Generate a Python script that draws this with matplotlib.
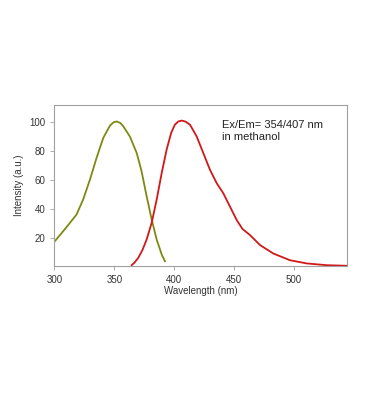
import matplotlib.pyplot as plt
import numpy as np

plt.rcParams['font.family'] = ['Liberation Sans', 'DejaVu Sans']

# excitation spectrum (olive)
ex_nm = [300.4, 307.4, 313, 318.5, 324, 329.7, 335.2, 340.8, 346.4, 349.5, 352, 355,
         357.5, 363, 368.7, 372.8, 377, 381.2, 385.4, 389.6, 392.3]
ex_int = [18.1, 25, 30.7, 36.4, 46.7, 60.4, 75.3, 89, 97.5, 99.8, 100.3, 99.3,
          97, 90, 78.7, 66, 49, 33, 19.2, 8.9, 4.3]

# emission spectrum (red)
em_nm = [364.5, 367, 370, 373.5, 377, 381.2, 385.4, 389.6, 393.7, 397.5, 400.5, 403.4,
         406.3, 409.5, 413.2, 418.8, 424.3, 429.9, 435.5, 441, 446.6, 452.2, 457,
         463.3, 471.7, 482.8, 496.7, 510.7, 527.4, 544]
em_int = [1.6, 3.5, 6.6, 12, 19.2, 30.7, 46.7, 65, 81, 92.5, 98, 100.3,
          100.9, 100.2, 98.1, 90, 78.6, 67.1, 57.9, 51, 41.8, 32.6, 26.5,
          22.3, 15.4, 9.6, 5, 2.8, 1.6, 1.2]

xticks = [300, 350, 400, 450, 500]
yticks = [20, 40, 60, 80, 100]

fig = plt.figure(figsize=(3.7, 4.19), dpi=100)
ax = fig.add_axes([0.147, 0.365, 0.79, 0.384])

ax.plot(ex_nm, ex_int, color='#7d8a12', lw=1.3, solid_joinstyle='round')
ax.plot(em_nm, em_int, color='#d01818', lw=1.3, solid_joinstyle='round')

ax.set_xlim(300, 544)
ax.set_ylim(1, 111.5)
ax.set_xticks(xticks)
ax.set_yticks(yticks)

for s in ax.spines.values():
    s.set_color('#a0a0a0')
    s.set_linewidth(0.8)
ax.tick_params(colors='#a0a0a0', labelcolor='#333333', labelsize=7, length=3, width=0.6)

ax.set_xlabel('Wavelength (nm)', fontsize=7, color='#333333', labelpad=1)
ax.set_ylabel('Intensity (a.u.)', fontsize=7, color='#333333', labelpad=4)

ax.text(0.575, 0.84, 'Ex/Em= 354/407 nm\nin methanol', transform=ax.transAxes,
        fontsize=8, color='#222222', va='center', ha='left', linespacing=1.25)

fig.savefig('out.png', dpi=100)
